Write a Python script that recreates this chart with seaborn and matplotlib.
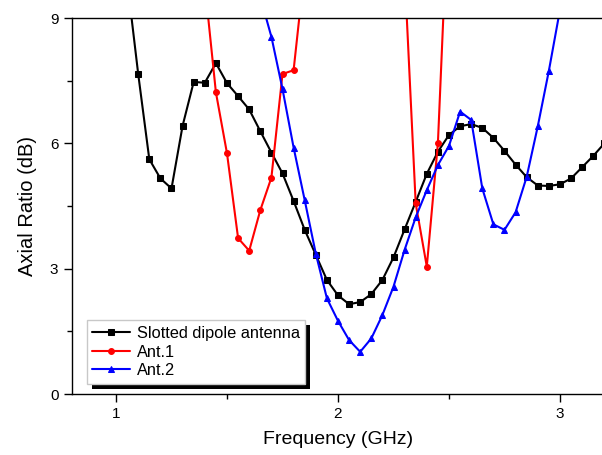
import matplotlib
matplotlib.use("Agg")
import matplotlib.pyplot as plt
import seaborn as sns
import pandas as pd
from matplotlib.patches import Rectangle
from matplotlib.transforms import IdentityTransform
from matplotlib.ticker import MultipleLocator

# ---- data ----
freq_slot = [1.05, 1.10, 1.15, 1.20, 1.25, 1.30, 1.35, 1.40, 1.45, 1.50, 1.55,
             1.60, 1.65, 1.70, 1.75, 1.80, 1.85, 1.90, 1.95, 2.00, 2.05, 2.10,
             2.15, 2.20, 2.25, 2.30, 2.35, 2.40, 2.45, 2.50, 2.55, 2.60, 2.65,
             2.70, 2.75, 2.80, 2.85, 2.90, 2.95, 3.00, 3.05, 3.10, 3.15, 3.20]
ar_slot = [9.9, 7.66, 5.62, 5.16, 4.92, 6.42, 7.47, 7.45, 7.92, 7.44, 7.13,
           6.81, 6.29, 5.78, 5.28, 4.62, 3.93, 3.33, 2.73, 2.36, 2.15, 2.20,
           2.39, 2.73, 3.27, 3.94, 4.60, 5.27, 5.80, 6.20, 6.41, 6.46, 6.37,
           6.13, 5.82, 5.49, 5.19, 4.99, 4.98, 5.02, 5.16, 5.43, 5.70, 6.00]

freq_ant1 = [1.40, 1.45, 1.50, 1.55, 1.60, 1.65, 1.70, 1.75, 1.80, 1.85,
             2.30, 2.35, 2.40, 2.45, 2.50]
ar_ant1 = [9.8, 7.22, 5.76, 3.73, 3.43, 4.40, 5.18, 7.66, 7.75, 10.2,
           10.1, 4.56, 3.05, 6.00, 12.2]

freq_ant2 = [1.65, 1.70, 1.75, 1.80, 1.85, 1.90, 1.95, 2.00, 2.05, 2.10, 2.15,
             2.20, 2.25, 2.30, 2.35, 2.40, 2.45, 2.50, 2.55, 2.60, 2.65, 2.70,
             2.75, 2.80, 2.85, 2.90, 2.95, 3.00]
ar_ant2 = [9.5, 8.55, 7.30, 5.90, 4.64, 3.36, 2.29, 1.75, 1.29, 1.01, 1.33,
           1.89, 2.57, 3.45, 4.23, 4.88, 5.48, 5.94, 6.76, 6.56, 4.92, 4.06,
           3.93, 4.35, 5.20, 6.41, 7.74, 9.2]

series_names = ["Slotted dipole antenna", "Ant.1", "Ant.2"]
series_colors = ["#000000", "#ff0000", "#0000ff"]
series_markers = ["s", "o", "^"]
series_msize = [3.8, 4.2, 4.6]

x_ticks = [1, 2, 3]
y_ticks = [0, 3, 6, 9]

sns.set_style("ticks")
plt.rcParams['font.family'] = ['Liberation Sans', 'DejaVu Sans']
plt.rcParams['text.color'] = 'black'
plt.rcParams['axes.labelcolor'] = 'black'

fig = plt.figure(figsize=(6.02, 4.55), dpi=100)
ax = fig.add_axes([71.6 / 602, 61 / 455, 532.8 / 602, 376 / 455])

data = [(freq_slot, ar_slot), (freq_ant1, ar_ant1), (freq_ant2, ar_ant2)]
for (fx, fy), name, col, mk, ms in zip(data, series_names, series_colors,
                                       series_markers, series_msize):
    df = pd.DataFrame({"Frequency": fx, "AR": fy})
    sns.lineplot(data=df, x="Frequency", y="AR", color=col, marker=mk,
                 markersize=ms, markeredgecolor=col, linewidth=1.5,
                 label=name, errorbar=None, sort=False, ax=ax)

ax.set_xlim(0.8, 3.2)
ax.set_ylim(0, 9)
ax.set_xticks(x_ticks)
ax.set_yticks(y_ticks)
ax.xaxis.set_minor_locator(MultipleLocator(0.5))
ax.yaxis.set_minor_locator(MultipleLocator(1.5))
ax.tick_params(which="major", direction="out", length=6, width=1,
               labelsize=11, colors="black", labelcolor="black")
ax.tick_params(which="minor", direction="out", length=3.5, width=1,
               colors="black")
for s in ax.spines.values():
    s.set_linewidth(1)
    s.set_color("black")

ax.set_xlabel("Frequency (GHz)", fontsize=14, labelpad=7, color="black")
ax.set_ylabel("Axial Ratio (dB)", fontsize=14.5, labelpad=9, color="black")

leg = ax.legend(loc="lower left", bbox_to_anchor=(0.028, 0.027),
                borderaxespad=0, fontsize=11.8, frameon=True, fancybox=False,
                edgecolor="#c8c8c8", facecolor="white", framealpha=1,
                handlelength=2.3, handletextpad=0.4, labelspacing=0.22,
                borderpad=0.35, numpoints=1)
leg.get_frame().set_linewidth(1)
leg.set_zorder(5)
for t in leg.get_texts():
    t.set_color("black")

fig.canvas.draw()
bb = leg.get_window_extent()
ax.add_patch(Rectangle((bb.x0 + 5, bb.y0 - 5), bb.width, bb.height,
                       transform=IdentityTransform(), facecolor="black",
                       edgecolor="none", zorder=4.5, clip_on=False))

fig.savefig("out.png", dpi=100)
